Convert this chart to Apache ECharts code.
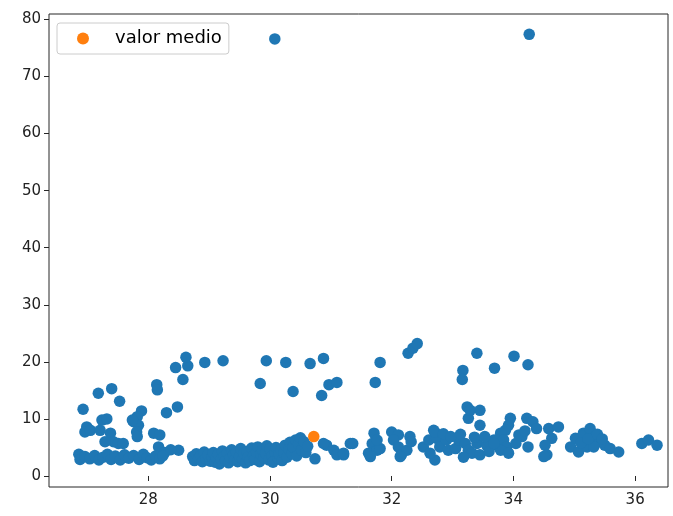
<!DOCTYPE html>
<html>
<head>
<meta charset="utf-8">
<script src="https://cdn.jsdelivr.net/npm/echarts@6/dist/echarts.min.js"></script>
<style>
html,body{margin:0;padding:0;background:#fff;}
#chart{width:673px;height:516px;}
</style>
</head>
<body>
<div id="chart"></div>
<script>
// ---- data ----
const xTicks = [28, 30, 32, 34, 36];
const yTicks = [0, 10, 20, 30, 40, 50, 60, 70, 80];
const legendLabel = 'valor medio';

const outliers = [[30.08, 76.6], [34.26, 77.4]];

const leftUpper = [
  [26.93,11.7],[27.18,14.5],[27.40,15.3],[27.53,13.1],[28.14,16.0],[28.15,15.1],[28.57,16.9],
  [28.45,19.0],[28.65,19.3],[28.62,20.8],[28.30,11.1],[28.48,12.1],[27.89,11.4],[27.82,10.4],
  [27.76,9.5],[27.84,8.9],[27.81,7.7],[27.82,6.9],[27.74,9.8],[27.24,9.8],[27.32,10.0],
  [26.99,8.6],[26.96,7.7],[27.05,8.0],[27.21,8.0],[27.38,7.5],[27.43,6.0],[27.29,6.0],
  [27.51,5.7],[27.59,5.7],[28.09,7.5],[28.19,7.2],[28.17,5.1],[28.50,4.5]
];

const leftBottom = [
  [26.86,3.8],[26.88,2.9],[26.96,3.4],[27.04,3.0],[27.12,3.6],[27.19,2.8],[27.26,3.3],
  [27.33,3.8],[27.39,2.9],[27.46,3.5],[27.54,2.8],[27.61,3.7],[27.68,3.1],[27.76,3.6],
  [27.85,2.9],[27.92,3.8],[27.98,3.2],[28.05,2.8],[28.12,3.5],[28.19,3.0],[28.27,4.1],
  [28.37,4.6],[28.24,3.5]
];

const midBand = [
  [28.73,3.4],[28.76,2.7],[28.79,3.9],[28.83,3.1],[28.86,3.6],[28.89,2.5],[28.92,4.2],
  [28.95,3.0],[28.98,3.7],[29.02,2.6],[29.05,3.3],[29.07,4.1],[29.10,2.4],[29.12,3.2],
  [29.15,3.8],[29.17,2.1],[29.20,2.9],[29.22,4.4],[29.25,3.5],[29.27,2.7],[29.30,4.0],
  [29.32,2.3],[29.35,3.2],[29.37,4.6],[29.40,3.7],[29.42,2.8],[29.45,4.2],[29.47,2.5],
  [29.50,3.4],[29.52,4.8],[29.55,3.0],[29.57,3.9],[29.60,2.3],[29.62,4.3],[29.64,3.3],
  [29.67,2.7],[29.70,4.9],[29.73,3.6],[29.75,2.9],[29.78,4.2],[29.80,5.1],[29.83,2.5],
  [29.85,3.8],[29.88,4.5],[29.90,3.2],[29.93,4.0],[29.95,5.3],[29.98,2.8],[30.00,4.7],
  [30.03,3.5],[30.05,2.4],[30.08,4.2],[30.10,5.0],[30.13,3.1],[30.15,3.8],[30.18,4.6],
  [30.20,2.7],[30.23,4.0],[30.25,5.4],[30.28,3.3],[30.31,4.7],[30.33,5.9],[30.36,3.9],
  [30.38,5.1],[30.42,6.3],[30.44,3.5],[30.47,5.6],[30.50,6.7],[30.52,4.5],[30.56,6.0],
  [30.59,4.1],[30.62,5.2],
  [30.74,3.0],[30.93,5.4],[31.05,4.5],[31.10,3.7],[31.21,3.7],[31.32,5.7],[30.88,5.7]
];

const midUpper = [
  [28.93,19.9],[29.23,20.2],[29.94,20.2],[30.26,19.9],[30.66,19.7],[30.88,20.6],
  [29.84,16.2],[30.38,14.8],[30.85,14.1],[30.97,16.0],[31.10,16.4]
];

const rightUpper = [
  [32.27,21.5],[32.35,22.4],[32.42,23.2],[31.81,19.9],[31.73,16.4],[33.40,21.5],
  [33.17,18.5],[33.16,16.9],[33.69,18.9],[34.01,21.0],[34.24,19.5],
  [33.24,12.1],[33.45,11.5],[33.26,10.1],[33.45,8.9],[33.29,11.5]
];

const rightLower = [
  [31.21,4.0],[31.36,5.7],[31.71,7.5],[31.68,5.7],[31.62,4.0],[31.76,4.5],[31.65,3.4],
  [31.81,4.8],[31.76,6.3],[32.00,7.7],[32.11,7.2],[32.03,6.3],[32.11,5.1],[32.16,3.7],
  [32.30,6.9],[32.25,4.5],[32.32,6.0],[32.14,3.4],[32.52,5.1],[32.61,6.3],[32.69,8.0],
  [32.74,6.6],[32.71,2.8],[32.63,4.0],[32.79,5.1],[32.90,6.3],[32.93,4.5],[33.05,4.8],
  [33.10,6.3],[33.21,5.7],[33.26,4.5],[33.32,4.0],[33.40,5.7],[33.45,3.7],[33.56,5.4],
  [33.68,6.3],[33.76,5.1],[32.71,7.7],[32.85,7.4],[32.97,6.9],[33.13,7.3],[33.36,6.8],
  [33.53,6.9],[33.60,4.3],[33.18,3.3]
];

const farRight = [
  [33.95,10.1],[33.92,8.9],[33.87,8.0],[33.79,7.5],[33.73,6.3],[33.84,6.3],[33.89,5.1],
  [33.79,4.5],[33.92,4.0],[33.68,5.7],[34.22,10.1],[34.32,9.5],[34.38,8.3],[34.14,6.9],
  [34.24,5.1],[34.58,8.3],[34.74,8.6],[34.63,6.6],[34.52,5.4],[34.55,3.7],[34.50,3.4],
  [34.94,5.1],[35.02,6.6],[35.07,4.2],[35.15,7.5],[35.26,8.3],[35.34,6.9],[35.42,6.0],
  [35.50,5.4],[35.21,5.1],[35.32,5.1],[35.59,4.8],[35.73,4.2],[36.11,5.7],[36.22,6.3],
  [36.36,5.4],[34.04,5.7],[34.09,7.2],[34.19,7.9],[35.11,5.8],[35.23,6.5],[35.38,7.3],
  [35.46,6.5]
];

const meanPoint = [[30.72, 6.9]];

const blueData = [].concat(outliers, leftUpper, leftBottom, midBand, midUpper, rightUpper, rightLower, farRight);

// ---- chart ----
const chart = echarts.init(document.getElementById('chart'), null, {renderer: 'canvas'});
const axisColor = '#262626';
const font = 'DejaVu Sans';

chart.setOption({
  animation: false,
  backgroundColor: '#ffffff',
  textStyle: {fontFamily: font},
  grid: {
    left: 49, top: 14, right: 5, bottom: 29,
    show: true, borderColor: axisColor, borderWidth: 1, backgroundColor: 'transparent'
  },
  legend: {
    data: [{name: legendLabel, icon: 'circle'}],
    left: 57, top: 23,
    orient: 'vertical',
    itemWidth: 12, itemHeight: 12,
    padding: [5, 7, 5, 20],
    backgroundColor: 'rgba(255,255,255,0.8)',
    borderColor: '#cccccc', borderWidth: 1, borderRadius: 3,
    textStyle: {fontFamily: font, fontSize: 18, color: '#000', lineHeight: 21, padding: [0, 0, 0, 21]}
  },
  xAxis: {
    type: 'value', min: 26.37, max: 36.54,
    axisLine: {show: false},
    splitLine: {show: false},
    axisTick: {show: true, customValues: xTicks, length: 5, lineStyle: {color: axisColor, width: 1}},
    axisLabel: {customValues: xTicks, margin: 6, fontFamily: font, fontSize: 15, color: '#222'}
  },
  yAxis: {
    type: 'value', min: -1.93, max: 80.96,
    axisLine: {show: false},
    splitLine: {show: false},
    axisTick: {show: true, customValues: yTicks, length: 5, lineStyle: {color: axisColor, width: 1}},
    axisLabel: {customValues: yTicks, margin: 8, fontFamily: font, fontSize: 15, color: '#222'}
  },
  series: [
    {
      name: 'data', type: 'scatter', data: blueData, symbolSize: 11.5,
      itemStyle: {color: '#1f77b4', opacity: 1}, z: 2
    },
    {
      name: legendLabel, type: 'scatter', data: meanPoint, symbolSize: 11.5,
      itemStyle: {color: '#ff7f0e', opacity: 1}, z: 3
    }
  ]
});
</script>
</body>
</html>
